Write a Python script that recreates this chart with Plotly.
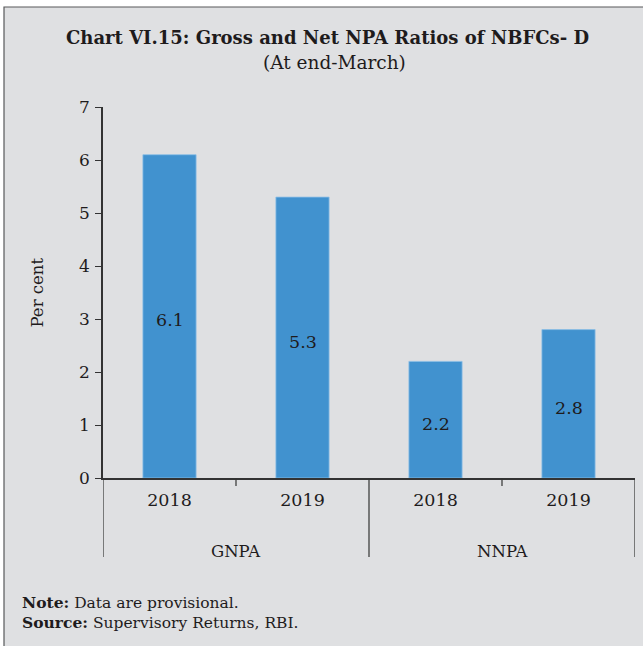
import plotly.graph_objects as go

# Data
groups = ["GNPA", "GNPA", "NNPA", "NNPA"]
years = ["2018", "2019", "2018", "2019"]
values = [6.1, 5.3, 2.2, 2.8]
group_names = ["GNPA", "NNPA"]
y_ticks = [0, 1, 2, 3, 4, 5, 6, 7]

W, H = 643, 646
ML, MR, MT, MB = 103, 8, 107, 168
PW, PH = W - ML - MR, H - MT - MB

def px_x(px):
    return (px - ML) / PW

def px_y(py):
    return (H - MB - py) / PH

FONT = "DejaVu Serif"
TXT = "#1e1b1c"
BAR = "#4192cf"
BG = "#dfe0e2"

xpos = list(range(len(values)))

fig = go.Figure(
    go.Bar(
        x=xpos,
        y=values,
        width=0.4,
        marker=dict(color=BAR, line=dict(color="#8cbfe6", width=0.8)),
        hoverinfo="skip",
    )
)

shapes = [
    # panel background and frame
    dict(type="rect", xref="paper", yref="paper",
         x0=px_x(4), x1=px_x(660), y0=px_y(670), y1=px_y(7),
         fillcolor=BG, line=dict(color="#58595b", width=1.2), layer="below"),
]
# short ticks between categories inside a group
for b in [0.5, 2.5]:
    shapes.append(dict(type="line", xref="x", yref="paper",
                       x0=b, x1=b, y0=0, y1=px_y(486),
                       line=dict(color="#333333", width=1.2)))
# group dividers
for b in [-0.5, 1.5, 3.5]:
    shapes.append(dict(type="line", xref="x", yref="paper",
                       x0=b, x1=b, y0=0, y1=px_y(557),
                       line=dict(color="#333333", width=1.2)))

annotations = [
    dict(text="<b>Chart VI.15: Gross and Net NPA Ratios of NBFCs- D</b>",
         xref="paper", yref="paper", x=px_x(327), y=px_y(37),
         xanchor="center", yanchor="middle", showarrow=False,
         font=dict(family=FONT, size=18, color=TXT)),
    dict(text="(At end-March)",
         xref="paper", yref="paper", x=px_x(334), y=px_y(62),
         xanchor="center", yanchor="middle", showarrow=False,
         font=dict(family=FONT, size=18.5, color=TXT)),
    dict(text="Per cent", textangle=-90,
         xref="paper", yref="paper", x=px_x(37), y=0.5,
         xanchor="center", yanchor="middle", showarrow=False,
         font=dict(family=FONT, size=16.5, color=TXT)),
    dict(text="<b>Note:</b> Data are provisional.",
         xref="paper", yref="paper", x=px_x(20), y=px_y(602),
         xanchor="left", yanchor="middle", showarrow=False,
         font=dict(family=FONT, size=15.5, color=TXT)),
    dict(text="<b>Source:</b> Supervisory Returns, RBI.",
         xref="paper", yref="paper", x=px_x(20), y=px_y(622),
         xanchor="left", yanchor="middle", showarrow=False,
         font=dict(family=FONT, size=15.5, color=TXT)),
]
# value labels centred in each bar, set slightly low
for xi, v in zip(xpos, values):
    annotations.append(dict(text=f"{v:.1f}", xref="x", yref="y",
                            x=xi, y=v / 2, yshift=-4,
                            xanchor="center", yanchor="middle", showarrow=False,
                            font=dict(family=FONT, size=17.5, color=TXT)))
for i, g in enumerate(group_names):
    annotations.append(dict(text=g, xref="x", yref="paper",
                            x=2 * i + 0.5, y=px_y(551),
                            xanchor="center", yanchor="middle", showarrow=False,
                            font=dict(family=FONT, size=16.5, color=TXT)))

fig.update_layout(
    width=W, height=H,
    margin=dict(l=ML, r=MR, t=MT, b=MB, pad=0),
    paper_bgcolor="white",
    plot_bgcolor="rgba(0,0,0,0)",
    showlegend=False,
    shapes=shapes,
    annotations=annotations,
    xaxis=dict(
        range=[-0.5, 3.5], tickvals=xpos, ticktext=years,
        ticks="", showgrid=False, zeroline=False,
        showline=True, linecolor="#333333", linewidth=1.5,
        tickfont=dict(family=FONT, size=17.5, color=TXT),
        ticklabelstandoff=5, fixedrange=True,
    ),
    yaxis=dict(
        range=[0, 7], tickvals=y_ticks,
        ticks="outside", ticklen=6, tickcolor="#333333", tickwidth=1.2,
        showgrid=False, zeroline=False,
        showline=True, linecolor="#333333", linewidth=1.5,
        tickfont=dict(family=FONT, size=17, color=TXT),
        ticklabelstandoff=2, fixedrange=True,
    ),
)

fig.write_html("out.html", config=dict(displayModeBar=False))
